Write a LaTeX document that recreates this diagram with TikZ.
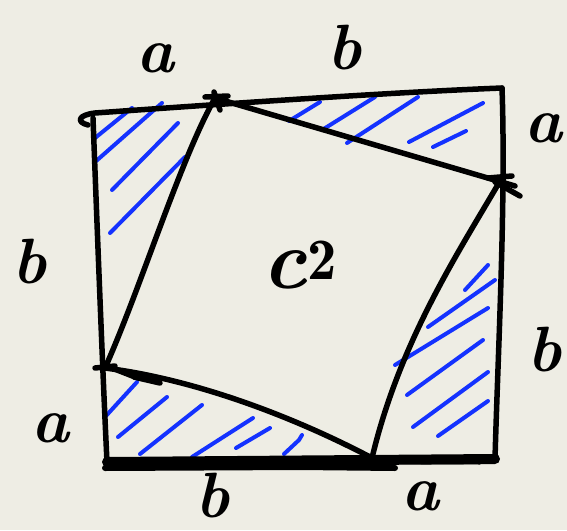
\documentclass[tikz,border=0pt]{standalone}
\usepackage{fontspec}
\definecolor{paper}{RGB}{238,237,228}
\definecolor{hatch}{RGB}{20,50,255}
\begin{document}
\begin{tikzpicture}[x=1pt,y=-1pt,
  pen/.style={line width=5.5pt,line cap=round,line join=round,black},
  fatpen/.style={line width=10pt,line cap=round,black},
  hat/.style={line width=4pt,line cap=round,hatch},
  lab/.style={font=\fontsize{64}{68}\selectfont\bfseries\itshape,inner sep=0pt}]
\fill[paper] (0,0) rectangle (567,530);
\useasboundingbox (0,0) rectangle (567,530);
% corners of the outer square
\coordinate (TL) at (93,118);
\coordinate (TR) at (502,88);
\coordinate (BR) at (495,459);
\coordinate (BL) at (107,462);
% vertices of the inner square
\coordinate (P1) at (215,98);
\coordinate (P2) at (500,181);
\coordinate (P3) at (372,458);
\coordinate (P4) at (105,368);
% blue hatching
\draw[hat] (95,138)--(132,108) (95,162)--(162,103) (112,190)--(178,123) (110,233)--(185,157);
\draw[hat] (289,121)--(320,102) (322,130)--(375,97) (347,143)--(418,97) (409,142)--(483,103) (433,147)--(466,131);
\draw[hat] (105,417)--(137,382) (118,437)--(167,397) (140,454)--(202,405) (192,457)--(253,418) (236,448)--(270,428) (284,454)--(299,440)--(302,435);
\draw[hat] (465,290)--(488,265) (428,327)--(495,280) (395,365)--(488,308) (407,395)--(483,340) (413,427)--(488,372) (438,436)--(488,401);
% outer square
\draw[pen] (88,125) .. controls (76,122) and (78,115) .. (95,113) .. controls (250,102) and (400,92) .. (TR);
\draw[pen] (TR) .. controls (506,200) and (498,350) .. (BR);
\draw[pen] (TL) .. controls (98,250) and (103,380) .. (BL);
\draw[fatpen] (BL) -- (BR);
\draw[line width=6pt,line cap=round] (105,468) -- (300,467) -- (395,468);
\draw[line width=3pt,line cap=round] (250,462) -- (480,463);
% inner square
\draw[pen] (P1) -- (515,186);
\draw[pen] (P2) .. controls (460,250) and (400,340) .. (P3);
\draw[pen] (P3) .. controls (300,420) and (200,380) .. (P4);
\draw[pen] (P4) .. controls (140,290) and (180,160) .. (P1);
% tick marks at the touching points
\draw[pen] (205,97) -- (228,96) (214,92) -- (220,110);
\draw[pen] (488,178) -- (512,176) (495,182) -- (520,196);
\draw[pen] (95,368) -- (115,366) (112,368) -- (135,377);
\draw[pen] (134,377) -- (160,383);
% labels
\node[lab] (la1) at (155,58) {a};
\node[lab] (lb1) at (345,48) {b};
\node[lab] (la2) at (543,128) {a};
\node[lab] (lb2) at (30,262) {b};
\node[lab,font=\fontsize{84}{88}\selectfont\bfseries\itshape] (lc) at (300,265) {c$^{\mathbf{2}}$};
\node[lab] (lb3) at (545,350) {b};
\node[lab] (la3) at (50,428) {a};
\node[lab] (lb4) at (213,496) {b};
\node[lab] (la4) at (420,496) {a};
\end{tikzpicture}
\end{document}
